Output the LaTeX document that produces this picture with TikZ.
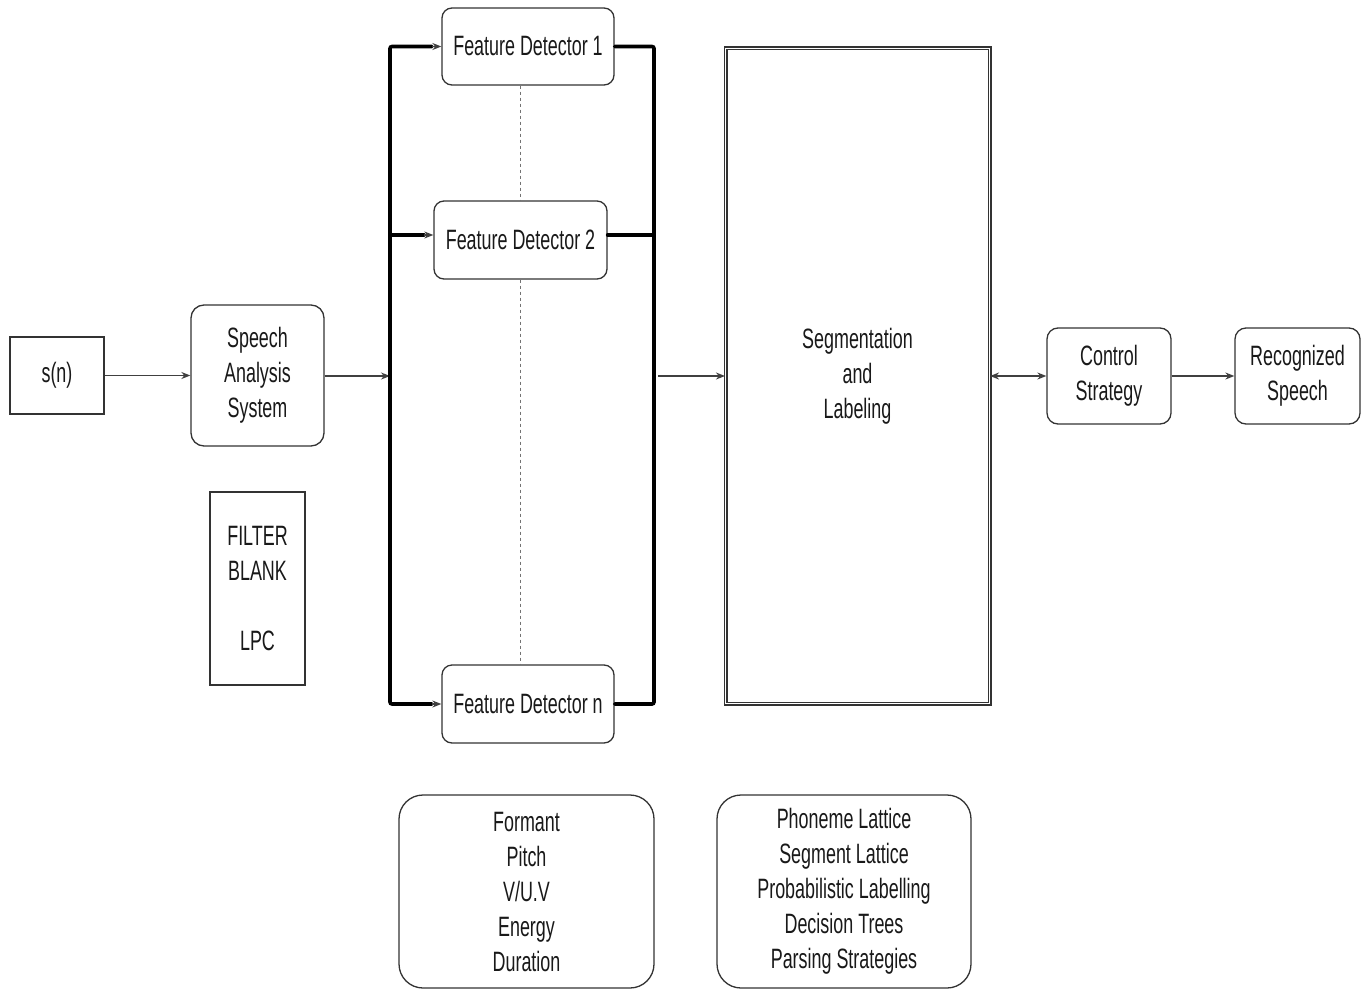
\documentclass[tikz,border=0pt]{standalone}
\usepackage{fontspec}
\setmainfont[FakeStretch=0.64]{Liberation Sans}
\usetikzlibrary{arrows.meta,calc}
\tikzset{
  base/.style={draw=black!80, line width=1.3pt, align=center, inner sep=0pt,
    font=\fontsize{28}{35}\selectfont, text=black!90},
  sqbox/.style={base},
  rbox/.style={base, rounded corners=13pt},
  bigbox/.style={base, rounded corners=24pt},
  arr/.style={draw=black!75, line width=1.4pt, -{Stealth[length=9pt,width=7pt]}},
  darr/.style={draw=black!75, line width=1.4pt, {Stealth[length=9pt,width=7pt]}-{Stealth[length=9pt,width=7pt]}},
  bus/.style={draw=black, line width=3.6pt, line cap=round},
  dash/.style={}
}
\begin{document}
\begin{tikzpicture}[x=1pt,y=-1pt]
\useasboundingbox[fill=white] (0,0) rectangle (1370,990);

\node[sqbox, minimum width=94pt, minimum height=77pt] (sn) at (57,375.5) {s(n)};
\node[rbox, minimum width=133pt, minimum height=141pt] (sas) at (257.5,375.5) {Speech\\Analysis\\System};
\node[sqbox, minimum width=95pt, minimum height=193pt] (flt) at (257.5,588.5) {FILTER\\BLANK\\[35pt]LPC};

\node[rbox, rounded corners=10pt, minimum width=172pt, minimum height=77pt] (fd1) at (528,46.5) {Feature Detector 1};
\node[rbox, rounded corners=10pt, minimum width=173pt, minimum height=78pt] (fd2) at (520.5,240) {Feature Detector 2};
\node[rbox, rounded corners=10pt, minimum width=172pt, minimum height=78pt] (fdn) at (528,704) {Feature Detector n};

\node[base, double, double distance=1.8pt, line width=1.1pt, minimum width=264pt, minimum height=655pt] (seg) at (857.5,376) {Segmentation\\and\\Labeling};

\node[rbox, rounded corners=11pt, minimum width=124pt, minimum height=96pt] (cs) at (1109,376) {Control\\Strategy};
\node[rbox, rounded corners=11pt, minimum width=125pt, minimum height=96pt] (rs) at (1297.5,376) {Recognized\\Speech};

\node[bigbox, minimum width=255pt, minimum height=193pt] (feat) at (526.5,891.5) {Formant\\Pitch\\V/U.V\\Energy\\Duration};
\node[bigbox, minimum width=254pt, minimum height=193pt] (lat) at (844,891.5) {Phoneme Lattice\\Segment Lattice\\Probabilistic Labelling\\Decision Trees\\Parsing Strategies};

% bus coordinates
\coordinate (L1) at (390,46.5);
\coordinate (L2) at (390,235);
\coordinate (Ln) at (390,704);
\coordinate (Lm) at (390,376);
\coordinate (A1) at (432,46.5);
\coordinate (A2) at (424,235);
\coordinate (An) at (432,704);
\coordinate (R1) at (654,46.5);
\coordinate (R2) at (654,235);
\coordinate (Rn) at (654,704);
\coordinate (Rm) at (658,376);

\draw[arr] (sn) -- (sas);
\draw[arr] (sas.east |- Lm) -- (Lm);

\draw[bus, rounded corners=2pt] (A1) -- (L1) -- (Ln) -- (An);
\draw[bus] (L2) -- (A2);
\draw[arr] (A1) -- (fd1.west);
\draw[arr] (A2) -- (fd2.west |- A2);
\draw[arr] (An) -- (fdn.west);

\draw[bus, rounded corners=2pt] (fd1.east) -- (R1) -- (Rn) -- (fdn.east);
\draw[bus] (fd2.east |- R2) -- (R2);

\draw[draw=black!55, line width=0.8pt, dashed] (fd2.north |- fd1.south) -- (fd2.north);
\draw[draw=black!55, line width=0.8pt, dashed] (fd2.south) -- (fd2.south |- fdn.north);

\draw[arr] (Rm) -- (seg.west |- Rm);
\draw[darr] (seg.east) -- (cs.west);
\draw[arr] (cs) -- (rs);
\end{tikzpicture}
\end{document}
